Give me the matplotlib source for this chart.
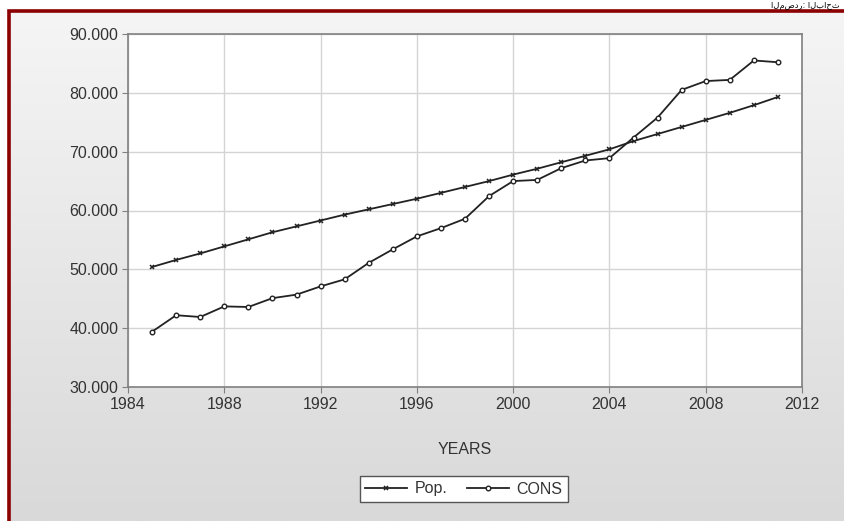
import numpy as np
import matplotlib.pyplot as plt
from matplotlib.patches import Rectangle
from matplotlib.ticker import FuncFormatter

# Datos
years = list(range(1985, 2012))
pop = [50.4, 51.6, 52.7, 53.9, 55.1, 56.3, 57.3, 58.3, 59.3, 60.2, 61.1, 62.0, 63.0, 64.0,
       65.0, 66.1, 67.1, 68.2, 69.3, 70.4, 71.8, 73.0, 74.2, 75.4, 76.6, 77.9, 79.3]
cons = [39.4, 42.2, 41.9, 43.7, 43.6, 45.1, 45.7, 47.1, 48.3, 51.1, 53.4, 55.6, 57.0, 58.6,
        62.45, 65.0, 65.2, 67.2, 68.5, 68.9, 72.4, 75.8, 80.5, 82.0, 82.2, 85.5, 85.2]
x_ticks = [1984, 1988, 1992, 1996, 2000, 2004, 2008, 2012]
y_ticks = [30, 40, 50, 60, 70, 80, 90]

plt.rcParams['font.family'] = ['Liberation Sans', 'DejaVu Sans']

W, H = 845, 521
fig = plt.figure(figsize=(W / 100, H / 100), dpi=100)

# fondo degradado gris con marco rojo
bg = fig.add_axes([0, 0, 1, 1], zorder=-10)
grad = np.linspace(0, 1, 256).reshape(-1, 1)
bg.imshow(grad, cmap=plt.matplotlib.colors.LinearSegmentedColormap.from_list('g', ['#f5f5f5', '#d9d9d9']),
          extent=[10 / W, 1, 0, 1 - 11 / H], aspect='auto', origin='upper', vmin=0, vmax=1)
bg.set_xlim(0, 1)
bg.set_ylim(0, 1)
bg.axis('off')
fig.patches.append(Rectangle((9.5 / W, -0.1), 1.2, 1.1 - 10.5 / H, transform=fig.transFigure,
                             facecolor='none', edgecolor='#8b0000', linewidth=2.6))
fig.text(840 / W, 1 - 5 / H, 'المصدر: الباحث', ha='right', va='center', fontsize=6,
         family=['DejaVu Sans'])

ax = fig.add_axes([128 / W, 1 - 387 / H, (802 - 128) / W, (387 - 34) / H])
ax.set_facecolor('white')
ax.plot(years, pop, color='#222222', linewidth=1.3, marker='x', markersize=3.5,
        markeredgewidth=1.1, label='Pop.')
ax.plot(years, cons, color='#222222', linewidth=1.3, marker='o', markersize=3.3,
        markerfacecolor='white', markeredgewidth=1.0, label='CONS')

ax.set_xlim(1984, 2012)
ax.set_ylim(30, 90)
ax.set_xticks(x_ticks)
ax.set_yticks(y_ticks)
ax.yaxis.set_major_formatter(FuncFormatter(lambda v, p: f'{v:.3f}'))
ax.grid(True, color='#d4d4d4', linewidth=1)
ax.set_axisbelow(True)
for s in ax.spines.values():
    s.set_color('#808080')
    s.set_linewidth(1.2)
ax.tick_params(direction='out', length=4, color='#808080', labelsize=11.5,
               labelcolor='#333333', pad=3)
ax.set_xlabel('YEARS', fontsize=11.5, color='#333333', labelpad=22)

leg = ax.legend(loc='center', bbox_to_anchor=(464 / W, 1 - 489 / H),
                bbox_transform=fig.transFigure, ncol=2, frameon=True, fancybox=False,
                framealpha=1, fontsize=11.5, handlelength=2.6, columnspacing=1.2,
                borderpad=0.35, handletextpad=0.5)
leg.get_frame().set_edgecolor('#555555')
leg.get_frame().set_facecolor('white')
leg.get_frame().set_linewidth(1.0)
for t in leg.get_texts():
    t.set_color('#333333')

fig.savefig('out.png', dpi=100)
